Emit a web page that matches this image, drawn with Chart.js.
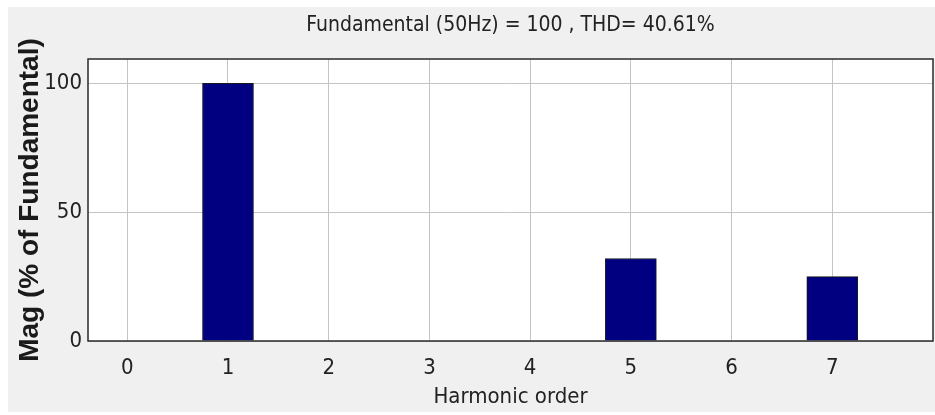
<!DOCTYPE html>
<html>
<head>
<meta charset="utf-8">
<script src="https://cdn.jsdelivr.net/npm/chart.js@4.4.0/dist/chart.umd.min.js"></script>
<style>
html,body{margin:0;padding:0;background:#fff;}
</style>
</head>
<body>
<canvas id="Espectro" width="935" height="415"></canvas>
<script>
// datos del espectro armonico
const ordenes = [0, 1, 2, 3, 4, 5, 6, 7];
const magnitudes = [0, 100, 0, 0, 0, 32, 0, 25];
const ticksX = [0, 1, 2, 3, 4, 5, 6, 7];
const ticksY = [0, 50, 100];
const titulo = 'Fundamental (50Hz) = 100 , THD= 40.61%';
const tituloX = 'Harmonic order';
const tituloY = 'Mag (% of Fundamental)';

const angosta = "'Liberation Sans Narrow', 'DejaVu Sans Condensed', Arial, sans-serif";

const fondo = {
  id: 'fondo',
  beforeDraw(chart) {
    const c = chart.ctx, a = chart.chartArea;
    c.save();
    c.fillStyle = '#f0f0f0';
    c.fillRect(8, 7, chart.width - 8, 405);
    c.fillStyle = '#ffffff';
    c.fillRect(a.left, a.top, a.right - a.left, a.bottom - a.top);
    c.restore();
  },
  afterDraw(chart) {
    const c = chart.ctx, a = chart.chartArea;
    c.save();
    c.strokeStyle = '#2a2a2a';
    c.lineWidth = 1.5;
    c.strokeRect(a.left, a.top, a.right - a.left, a.bottom - a.top);
    c.restore();
  }
};

function graficar() {
  const ctx = document.getElementById('Espectro');
  new Chart(ctx, {
    type: 'bar',
    data: {
      datasets: [{
        data: ordenes.map((o, i) => ({x: o, y: magnitudes[i]})),
        backgroundColor: '#000080',
        borderColor: '#1a1a1a',
        borderWidth: 1,
        barThickness: 51
      }]
    },
    options: {
      responsive: false,
      animation: false,
      layout: {padding: {left: 0, right: 2, top: 0, bottom: 0}},
      plugins: {
        legend: {display: false},
        tooltip: {enabled: false},
        title: {
          display: true,
          fullSize: false,
          text: titulo,
          color: '#222',
          font: {family: angosta, size: 21, weight: 'normal', lineHeight: 1.2},
          padding: {top: 13, bottom: 20.8}
        }
      },
      scales: {
        x: {
          type: 'linear',
          offset: false,
          min: -0.39,
          max: 8,
          afterBuildTicks: s => { s.ticks = ticksX.map(v => ({value: v})); },
          afterFit: s => { s.height = 74; },
          border: {display: false},
          grid: {offset: false, color: '#c4c4c4', lineWidth: 1, tickLength: 0, drawTicks: false},
          ticks: {color: '#222', padding: 14, font: {family: angosta, size: 22}},
          title: {
            display: true,
            text: tituloX,
            color: '#222',
            font: {family: angosta, size: 22, lineHeight: 1.2},
            padding: {top: 0, bottom: 5}
          }
        },
        y: {
          min: 0,
          max: 109.4,
          afterBuildTicks: s => { s.ticks = ticksY.map(v => ({value: v})); },
          afterFit: s => { s.width = 88; },
          border: {display: false},
          grid: {color: '#c4c4c4', lineWidth: 1, tickLength: 0, drawTicks: false},
          ticks: {color: '#222', padding: 6, font: {family: angosta, size: 22}},
          title: {
            display: true,
            text: tituloY,
            color: '#1a1a1a',
            font: {family: "'Liberation Sans', Arial, sans-serif", size: 28, weight: 'bold', lineHeight: 1.2},
            padding: {top: 13, bottom: 0}
          }
        }
      }
    },
    plugins: [fondo]
  });
}

graficar();
</script>
</body>
</html>
